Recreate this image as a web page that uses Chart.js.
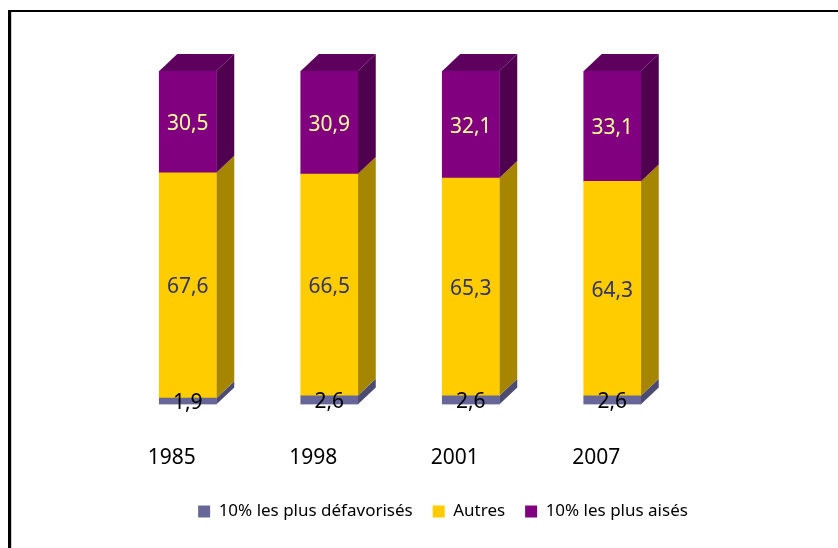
<!DOCTYPE html>
<html lang="fr">
<head>
  <meta charset="UTF-8" />
  <title>Répartition par année</title>
  <style>
    * { margin: 0; padding: 0; box-sizing: border-box; }
    body { background: #fff; width: 838px; height: 548px; overflow: hidden; position: relative; }
    canvas { position: absolute; left: 0; top: 0; }
    /* Frame: heavy top and left rule, thin grey inner rule on the left */
    .frame-top { position: absolute; left: 8px; top: 10px; right: 0; height: 2px; background: #000; }
    .frame-left { position: absolute; left: 8px; top: 10px; bottom: 0; width: 3px; background: #000; }
    .frame-inner { position: absolute; left: 11px; top: 12px; bottom: 0; width: 1px; background: #ccc; }
  </style>
</head>
<body>
  <div class="frame-top"></div>
  <div class="frame-left"></div>
  <div class="frame-inner"></div>
  <canvas id="chart" width="838" height="548"></canvas>

  <script src="https://cdn.jsdelivr.net/npm/chart.js"></script>
  <script>
    const years = ['1985', '1998', '2001', '2007'];
    const seriesNames = ['10% les plus défavorisés', 'Autres', '10% les plus aisés'];
    const poorest = [1.9, 2.6, 2.6, 2.6];
    const others = [67.6, 66.5, 65.3, 64.3];
    const richest = [30.5, 30.9, 32.1, 33.1];

    const FONT = '"Noto Sans", sans-serif';
    const DEPTH_X = 18;
    const DEPTH_Y = 17;

    const faces = [
      { front: '#666699', side: '#4b4b73', top: '#55557f', label: '#000000' },
      { front: '#FFCC00', side: '#A68500', top: '#B89400', label: '#333366' },
      { front: '#800080', side: '#4F004F', top: '#5E005E', label: '#FFFF99' }
    ];

    // Fake 3D: side and top faces are built from the real bar elements
    const depthFaces = {
      id: 'depthFaces',
      beforeDatasetsDraw(chart) {
        const ctx = chart.ctx;
        chart.data.datasets.forEach((ds, i) => {
          chart.getDatasetMeta(i).data.forEach(bar => {
            const right = bar.x + bar.width / 2;
            ctx.fillStyle = faces[i].side;
            ctx.beginPath();
            ctx.moveTo(right, bar.base);
            ctx.lineTo(right, bar.y);
            ctx.lineTo(right + DEPTH_X, bar.y - DEPTH_Y);
            ctx.lineTo(right + DEPTH_X, bar.base - DEPTH_Y);
            ctx.closePath();
            ctx.fill();
            if (i === chart.data.datasets.length - 1) {
              const left = bar.x - bar.width / 2;
              ctx.fillStyle = faces[i].top;
              ctx.beginPath();
              ctx.moveTo(left, bar.y);
              ctx.lineTo(right, bar.y);
              ctx.lineTo(right + DEPTH_X, bar.y - DEPTH_Y);
              ctx.lineTo(left + DEPTH_X, bar.y - DEPTH_Y);
              ctx.closePath();
              ctx.fill();
            }
          });
        });
      }
    };

    const valueLabels = {
      id: 'valueLabels',
      afterDatasetsDraw(chart) {
        const ctx = chart.ctx;
        ctx.save();
        ctx.font = '21px ' + FONT;
        ctx.textAlign = 'center';
        ctx.textBaseline = 'middle';
        chart.data.datasets.forEach((ds, i) => {
          ctx.fillStyle = faces[i].label;
          chart.getDatasetMeta(i).data.forEach((bar, j) => {
            const text = ds.data[j].toFixed(1).replace('.', ',');
            ctx.fillText(text, bar.x, (bar.y + bar.base) / 2 + 2);
          });
        });
        ctx.restore();
      }
    };

    const ctx = document.getElementById('chart').getContext('2d');
    new Chart(ctx, {
      type: 'bar',
      data: {
        labels: years,
        datasets: [
          { label: seriesNames[0], data: poorest, backgroundColor: faces[0].front },
          { label: seriesNames[1], data: others, backgroundColor: faces[1].front },
          { label: seriesNames[2], data: richest, backgroundColor: faces[2].front }
        ]
      },
      plugins: [depthFaces, valueLabels],
      options: {
        responsive: false,
        animation: false,
        barThickness: 57,
        layout: { padding: { left: 48, right: 0, top: 71, bottom: 18 } },
        plugins: {
          tooltip: { enabled: false },
          legend: {
            position: 'bottom',
            labels: {
              boxWidth: 12,
              boxHeight: 12,
              padding: 20,
              color: '#000',
              font: { family: FONT, size: 17 }
            }
          }
        },
        scales: {
          x: {
            stacked: true,
            grid: { display: false },
            border: { display: false },
            ticks: {
              color: '#000',
              padding: 33,
              labelOffset: -16,
              maxRotation: 0,
              font: { family: FONT, size: 21 }
            },
            afterFit(scale) { scale.height = 78.5; }
          },
          y: {
            stacked: true,
            min: 0,
            max: 100,
            grid: { display: false },
            border: { display: false },
            ticks: { display: false },
            afterFit(scale) { scale.width = 69; }
          },
          // empty axis, only keeps the plot clear of the right side
          yRight: {
            position: 'right',
            grid: { display: false },
            border: { display: false },
            ticks: { display: false },
            afterFit(scale) { scale.width = 155; }
          }
        }
      }
    });
  </script>
</body>
</html>
